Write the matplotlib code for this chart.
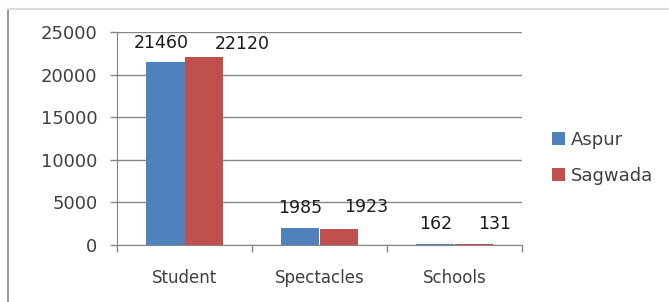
import matplotlib.pyplot as plt
import numpy as np
from matplotlib.lines import Line2D

categories = ["Student", "Spectacles", "Schools"]
aspur = [21460, 1985, 162]
sagwada = [22120, 1923, 131]
series_names = ["Aspur", "Sagwada"]
y_ticks = [0, 5000, 10000, 15000, 20000, 25000]

# label nudges in pixels (dx, dy) for each bar, Excel-ish placement
aspur_offsets = [(-4, 19), (0, 20), (0, 20)]
sagwada_offsets = [(39, 13), (27, 22), (21, 20)]

blue = "#4F81BD"
red = "#C0504D"
text_col = "#404040"

fig = plt.figure(figsize=(6.69, 3.02), dpi=100)
ax = fig.add_axes([117 / 669, 1 - 245 / 302, (522 - 117) / 669, (245 - 32) / 302])

x = np.arange(len(categories))
w = 0.285
b1 = ax.bar(x - w / 2, aspur, w, color=blue, zorder=3)
b2 = ax.bar(x + w / 2, sagwada, w, color=red, zorder=3)

# px -> points
px = 72 / 100
for bars, vals, offs in [(b1, aspur, aspur_offsets), (b2, sagwada, sagwada_offsets)]:
    for bar, v, (dx, dy) in zip(bars, vals, offs):
        ax.annotate(str(v), (bar.get_x() + bar.get_width() / 2, v),
                    xytext=(dx * px, dy * px), textcoords="offset points",
                    ha="center", va="center", fontsize=12.5, color="#1a1a1a")

ax.set_xlim(-0.5, 2.5)
ax.set_ylim(0, 25000)
ax.set_yticks(y_ticks)
ax.set_yticklabels([str(t) for t in y_ticks])
ax.set_xticks(x)
ax.set_xticklabels(categories)
ax.set_xticks([-0.5, 0.5, 1.5, 2.5], minor=True)

ax.tick_params(axis="y", length=5, width=1, color="#868686", pad=9,
               labelsize=13, labelcolor=text_col)
ax.tick_params(axis="x", which="major", length=0, pad=17,
               labelsize=12, labelcolor=text_col)
ax.tick_params(axis="x", which="minor", length=5, width=1, color="#868686")

ax.grid(axis="y", color="#878787", linewidth=1, zorder=0)
for s in ["top", "right"]:
    ax.spines[s].set_visible(False)
ax.spines["left"].set_color("#868686")
ax.spines["bottom"].set_color("#868686")

leg = fig.legend(handles=[b1, b2], labels=series_names, loc="center left",
                 bbox_to_anchor=(543 / 669, 1 - 158 / 302), frameon=False,
                 fontsize=13, handlelength=0.7, handleheight=0.7,
                 handletextpad=0.35, labelspacing=1.0, borderpad=0)
for t in leg.get_texts():
    t.set_color(text_col)

# outer chart frame (only left and top edges visible)
fig.add_artist(Line2D([8 / 669, 8 / 669], [0, 1 - 9 / 302], color="#9a9a9a", linewidth=1.5))
fig.add_artist(Line2D([8 / 669, 1], [1 - 9 / 302, 1 - 9 / 302], color="#dcdcdc", linewidth=1.5))

plt.savefig("out.png", dpi=100)
